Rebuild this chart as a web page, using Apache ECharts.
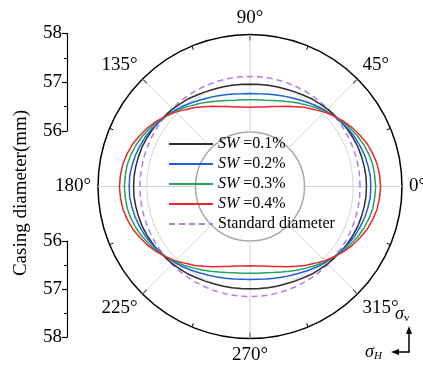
<!DOCTYPE html>
<html><head><meta charset="utf-8">
<script src="https://cdn.jsdelivr.net/npm/echarts@6/dist/echarts.min.js"></script>
<style>html,body{margin:0;padding:0;background:#fff}#c{width:423px;height:367px}</style>
</head><body><div id="c"></div>
<script>
// Angle (degrees) of each measurement
const angles = [0,5,10,15,20,25,30,35,40,45,50,55,60,65,70,75,80,85,90,
  95,100,105,110,115,120,125,130,135,140,145,150,155,160,165,170,175,180,
  185,190,195,200,205,210,215,220,225,230,235,240,245,250,255,260,265,270,
  275,280,285,290,295,300,305,310,315,320,325,330,335,340,345,350,355,360];
// Casing diameter (mm) for each SW level
const sw01 = [57.27,57.27,57.26,57.25,57.24,57.22,57.20,57.18,57.15,57.13,57.10,57.08,57.05,57.03,57.01,57.00,56.99,56.98,56.98,
  56.98,56.99,57.00,57.01,57.03,57.05,57.08,57.10,57.13,57.15,57.18,57.20,57.22,57.24,57.25,57.26,57.27,57.27,
  57.27,57.26,57.25,57.24,57.22,57.20,57.18,57.15,57.13,57.10,57.08,57.05,57.03,57.01,57.00,56.99,56.98,56.98,
  56.98,56.99,57.00,57.01,57.03,57.05,57.08,57.10,57.13,57.15,57.18,57.20,57.22,57.24,57.25,57.26,57.27,57.27];
const sw02 = [57.36,57.36,57.34,57.32,57.29,57.26,57.22,57.17,57.13,57.08,57.03,56.98,56.93,56.89,56.86,56.83,56.81,56.79,56.79,
  56.79,56.81,56.83,56.86,56.89,56.93,56.98,57.03,57.08,57.13,57.17,57.22,57.26,57.29,57.32,57.34,57.36,57.36,
  57.36,57.34,57.32,57.29,57.26,57.22,57.17,57.13,57.08,57.03,56.98,56.93,56.89,56.86,56.83,56.81,56.79,56.79,
  56.79,56.81,56.83,56.86,56.89,56.93,56.98,57.03,57.08,57.13,57.17,57.22,57.26,57.29,57.32,57.34,57.36,57.36];
const sw03 = [57.46,57.45,57.44,57.41,57.37,57.32,57.26,57.20,57.13,57.06,56.99,56.92,56.86,56.80,56.75,56.71,56.68,56.67,56.66,
  56.67,56.68,56.71,56.75,56.80,56.86,56.92,56.99,57.06,57.13,57.20,57.26,57.32,57.37,57.41,57.44,57.45,57.46,
  57.45,57.44,57.41,57.37,57.32,57.26,57.20,57.13,57.06,56.99,56.92,56.86,56.80,56.75,56.71,56.68,56.67,56.66,
  56.67,56.68,56.71,56.75,56.80,56.86,56.92,56.99,57.06,57.13,57.20,57.26,57.32,57.37,57.41,57.44,57.45,57.46];
const sw04 = [57.56,57.55,57.53,57.49,57.44,57.37,57.30,57.22,57.13,57.04,56.94,56.86,56.77,56.70,56.63,56.58,56.54,56.52,56.51,
  56.52,56.54,56.58,56.63,56.70,56.77,56.86,56.94,57.04,57.13,57.22,57.30,57.37,57.44,57.49,57.53,57.55,57.56,
  57.55,57.53,57.49,57.44,57.37,57.30,57.22,57.13,57.04,56.94,56.86,56.77,56.70,56.63,56.58,56.54,56.52,56.51,
  56.52,56.54,56.58,56.63,56.70,56.77,56.86,56.94,57.04,57.13,57.22,57.30,57.37,57.44,57.49,57.53,57.55,57.56];
const standardDiameter = 57.14;
const seriesNames = ['SW =0.1%','SW =0.2%','SW =0.3%','SW =0.4%','Standard diameter'];
const radiusMin = 56, radiusMax = 58;
const axisTitle = 'Casing diameter(mm)';

const FONT = '"Liberation Serif", "Times New Roman", serif';
const chart = echarts.init(document.getElementById('c'), null, {renderer:'canvas'});
const cx = 250, cy = 186.5;
function pts(vals){ return angles.map((a,i)=>[vals[i], a]); }
const colors = ['#2e2e2e','#1a62dc','#27a35a','#e8262c','#b07cf2'];
const lineSeries = [sw01, sw02, sw03, sw04].map((v,i)=>({
  name: seriesNames[i], type:'line', coordinateSystem:'polar', data: pts(v),
  symbol:'none', smooth:false, lineStyle:{color:colors[i], width:1.5}, itemStyle:{color:colors[i]}, z: 3
}));
lineSeries.push({
  name: seriesNames[4], type:'line', coordinateSystem:'polar',
  data: angles.map(a=>[standardDiameter, a]), symbol:'none',
  lineStyle:{color:colors[4], width:1.5, type:[6,4]}, itemStyle:{color:colors[4]}, z: 2
});
const leftAxisCommon = {
  type:'value', min:radiusMin, max:radiusMax, interval:1,
  axisLine:{show:true, lineStyle:{color:'#000', width:1.2}},
  axisTick:{show:true, inside:false, length:5, lineStyle:{color:'#000', width:1.2}},
  minorTick:{show:true, splitNumber:2, length:3, lineStyle:{color:'#000', width:1}},
  axisLabel:{fontFamily:FONT, fontSize:19, color:'#000', margin:5},
  splitLine:{show:false}
};
chart.setOption({
  animation:false,
  backgroundColor:'#fff',
  polar:{center:[cx, cy], radius:[54.5, 152]},
  angleAxis:{
    type:'value', min:0, max:360, interval:45, startAngle:0, clockwise:false,
    axisLine:{show:false},
    axisTick:{show:true, inside:true, length:6, lineStyle:{color:'#000', width:1.2}},
    minorTick:{show:true, splitNumber:2, length:4, lineStyle:{color:'#000', width:1}},
    axisLabel:{fontFamily:FONT, fontSize:19, color:'#000', margin:7,
      formatter:v=> v===360 ? '' : v + '°'},
    splitLine:{show:true, lineStyle:{color:'#d2d2d2', width:1}}
  },
  radiusAxis:{
    type:'value', min:radiusMin, max:radiusMax, interval:2,
    axisLine:{show:false}, axisTick:{show:false}, axisLabel:{show:false},
    splitLine:{show:true, lineStyle:{color:['#a8a8a8','#000'], width:1.5}},
    minorTick:{show:false, splitNumber:2},
    minorSplitLine:{show:true, lineStyle:{color:'#d4d4d4', width:1}}
  },
  grid:[{left:67, top:33.5, width:1, height:97.5}, {left:67, top:241, width:1, height:96}],
  xAxis:[{gridIndex:0, type:'value', show:false}, {gridIndex:1, type:'value', show:false}],
  yAxis:[Object.assign({gridIndex:0}, leftAxisCommon), Object.assign({gridIndex:1, inverse:true}, leftAxisCommon)],
  legend:{
    orient:'vertical', left:163, top:131, itemWidth:44, itemHeight:16, itemGap:4,
    data: seriesNames,
    itemStyle:{opacity:0, borderWidth:0},
    textStyle:{fontFamily:FONT, fontSize:16, color:'#000',
      rich:{i:{fontFamily:FONT, fontSize:16, fontStyle:'italic', color:'#000'}}},
    formatter: n => n.replace('SW', '{i|SW}')
  },
  series: lineSeries,
  graphic:[
    {type:'text', x:21, y:193, rotation:Math.PI/2, style:{text:axisTitle, font:'19px ' + FONT, fill:'#000', textAlign:'center', textVerticalAlign:'middle'}},
    {type:'text', x:395, y:304, style:{text:'{a|σ}{b|v}', rich:{a:{font:'italic 18px ' + FONT, fill:'#000'}, b:{font:'11px ' + FONT, fill:'#000', padding:[9,0,0,0]}}}},
    {type:'text', x:365, y:342, style:{text:'{a|σ}{b|H}', rich:{a:{font:'italic 18px ' + FONT, fill:'#000'}, b:{font:'italic 11px ' + FONT, fill:'#000', padding:[9,0,0,0]}}}},
    {type:'line', shape:{x1:409, y1:352.5, x2:409, y2:332}, style:{stroke:'#000', lineWidth:1.5}},
    {type:'polygon', shape:{points:[[409,326],[406,334],[412,334]]}, style:{fill:'#000'}},
    {type:'line', shape:{x1:409.5, y1:352, x2:397, y2:352}, style:{stroke:'#000', lineWidth:1.5}},
    {type:'polygon', shape:{points:[[391,352],[399,349],[399,355]]}, style:{fill:'#000'}}
  ]
});
</script></body></html>
